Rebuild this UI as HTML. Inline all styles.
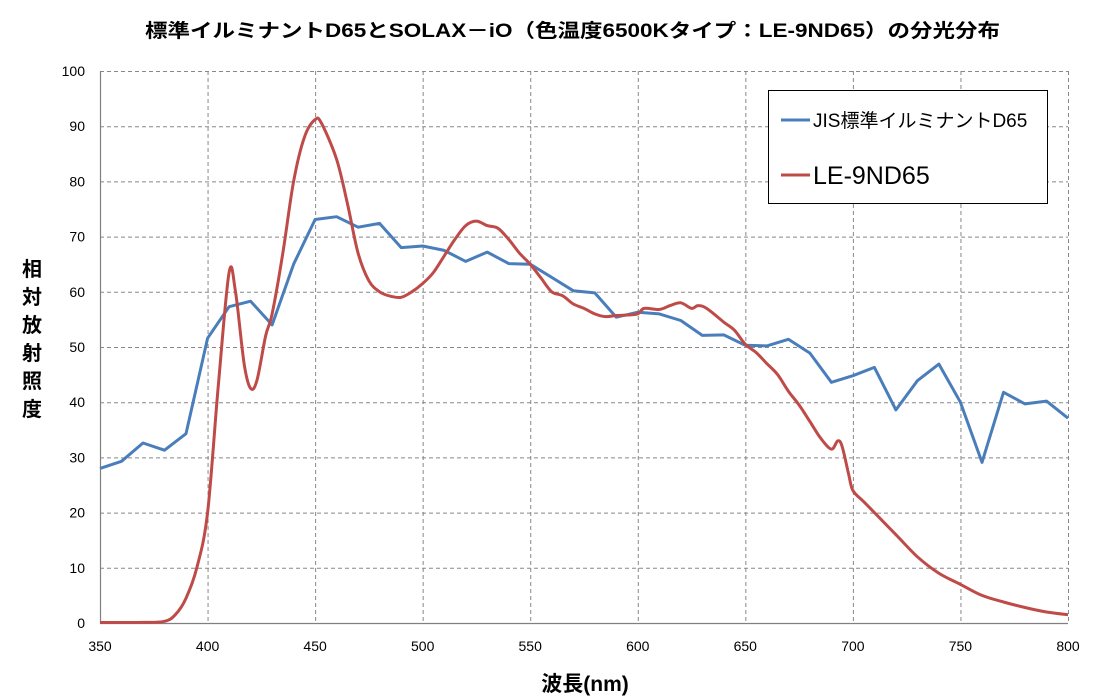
<!DOCTYPE html>
<html><head><meta charset="utf-8">
<style>
html,body{margin:0;padding:0;background:#fff;}
svg{display:block;font-family:"Liberation Sans","Noto Sans CJK JP",sans-serif;}
</style></head>
<body>
<svg id="c" width="1100" height="700" viewBox="0 0 1100 700" xmlns="http://www.w3.org/2000/svg">
<rect width="1100" height="700" fill="#fff"/>
<text x="145" y="37" font-size="19" font-weight="bold" textLength="855" lengthAdjust="spacingAndGlyphs" fill="#000">標準イルミナントD65とSOLAX－iO（色温度6500Kタイプ：LE-9ND65）の分光分布</text>
<g id="grid" stroke="#888" stroke-width="1" stroke-dasharray="4,3" fill="none"></g>
<line x1="100.5" y1="71" x2="100.5" y2="623" stroke="#808080" stroke-width="1.2"/>
<line x1="100" y1="623.5" x2="1068" y2="623.5" stroke="#808080" stroke-width="1.2"/>
<g font-size="14" fill="#000" text-anchor="end">
<text x="85" y="628">0</text><text x="85" y="572.8">10</text><text x="85" y="517.6">20</text>
<text x="85" y="462.4">30</text><text x="85" y="407.2">40</text><text x="85" y="352">50</text>
<text x="85" y="296.8">60</text><text x="85" y="241.6">70</text><text x="85" y="186.4">80</text>
<text x="85" y="131.2">90</text><text x="85" y="76">100</text>
</g>
<g font-size="14" fill="#000" text-anchor="middle">
<text x="100" y="651">350</text><text x="207.6" y="651">400</text><text x="315.1" y="651">450</text>
<text x="422.7" y="651">500</text><text x="530.2" y="651">550</text><text x="637.8" y="651">600</text>
<text x="745.3" y="651">650</text><text x="852.9" y="651">700</text><text x="960.4" y="651">750</text>
<text x="1068" y="651">800</text>
</g>
<text x="585" y="691" font-size="21" font-weight="bold" text-anchor="middle">波長(nm)</text>
<g font-size="20" font-weight="bold" text-anchor="middle">
<text x="32" y="276">相</text><text x="32" y="304">対</text><text x="32" y="332">放</text>
<text x="32" y="360">射</text><text x="32" y="388">照</text><text x="32" y="416">度</text>
</g>
<path id="blue" fill="none" stroke="#4a7ebb" stroke-width="3" stroke-linejoin="round"/>
<path id="red" fill="none" stroke="#be4b48" stroke-width="3" stroke-linejoin="round"/>
<rect x="768.5" y="90.5" width="279" height="113" fill="#fff" stroke="#000" stroke-width="1"/>
<line x1="781" y1="120" x2="810" y2="120" stroke="#4a7ebb" stroke-width="3"/>
<text x="813" y="127" font-size="19">JIS標準イルミナントD65</text>
<line x1="781" y1="175" x2="810" y2="175" stroke="#be4b48" stroke-width="3"/>
<text x="813" y="184" font-size="25">LE-9ND65</text>
</svg>
<script>
var X=function(n){return 100+(n-350)*968/450;},Y=function(v){return 623-v*5.52;};
var g=document.getElementById('grid'),s='';
for(var v=10;v<=100;v+=10)s+='M100,'+(Y(v)+.5)+'H1068';
for(var n=400;n<=800;n+=50)s+='M'+(X(n)+.5)+',71V623';
var p=document.createElementNS('http://www.w3.org/2000/svg','path');p.setAttribute('d',s);g.appendChild(p);
var b=[28,29.3,32.6,31.3,34.3,51.6,57.3,58.3,54,65,73.1,73.6,71.7,72.4,68,68.3,67.5,65.5,67.2,65.1,65,62.6,60.2,59.8,55.4,56.3,56,54.8,52.1,52.2,50.3,50.2,51.4,48.9,43.6,44.8,46.3,38.6,43.9,46.9,40,29.1,41.8,39.7,40.2,37.1];
var d='';b.forEach(function(v,i){d+=(i?'L':'M')+X(350+i*10).toFixed(1)+','+Y(v).toFixed(1);});
document.getElementById('blue').setAttribute('d',d);
var r=[[350,0.1],[370,0.1],[380,0.3],[385,1.5],[390,4.5],[395,10],[400,20],[405,43],[410,63.5],[413,60],[417,47],[420,42.5],[423,44],[427,52],[430,56],[435,67],[440,80],[445,88],[450,91.2],[453,90.5],[460,84],[465,76],[470,67],[475,62],[480,60],[485,59.2],[490,59],[495,60],[500,61.5],[505,63.5],[510,66.5],[515,69.5],[520,72],[525,72.8],[530,72],[535,71.5],[540,69.5],[545,67],[550,65],[555,62.5],[560,60],[565,59.3],[570,57.8],[575,57],[580,56],[585,55.5],[590,55.7],[595,55.8],[600,56],[603,57],[610,56.8],[615,57.5],[620,58],[625,57],[628,57.5],[632,57],[640,54.5],[645,53],[650,50.5],[655,49],[660,47],[665,45],[670,42],[675,39.5],[680,36.5],[685,33.5],[690,31.5],[693,33],[695,32],[698,27],[700,24],[705,22],[710,20],[720,16],[730,12],[740,9],[750,7],[760,5],[770,3.8],[780,2.8],[790,2],[800,1.5]];
var P=r.map(function(q){return [X(q[0]),Y(q[1])];});
d='M'+P[0][0]+','+P[0][1];
for(var i=0;i<P.length-1;i++){var p0=P[i?i-1:0],p1=P[i],p2=P[i+1],p3=P[Math.min(i+2,P.length-1)];
d+='C'+(p1[0]+(p2[0]-p0[0])/6).toFixed(1)+','+(p1[1]+(p2[1]-p0[1])/6).toFixed(1)+' '+(p2[0]-(p3[0]-p1[0])/6).toFixed(1)+','+(p2[1]-(p3[1]-p1[1])/6).toFixed(1)+' '+p2[0].toFixed(1)+','+p2[1].toFixed(1);}
document.getElementById('red').setAttribute('d',d);
</script>
</body></html>
